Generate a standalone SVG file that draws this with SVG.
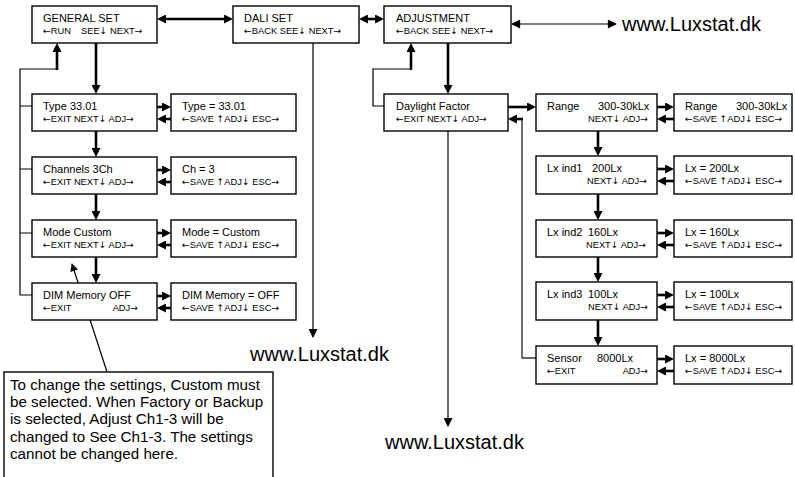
<svg xmlns="http://www.w3.org/2000/svg" width="795" height="477" viewBox="0 0 795 477">
  <defs>
    <style>
      .box { fill: #fff; stroke: #000; stroke-width: 1.4; }
      text { font-family: "Liberation Sans", Arial, sans-serif; fill: #000; }
      .t1 { font-size: 11px; }
      .t2 { font-size: 9.3px; }
      .ar { font-family: "DejaVu Sans", sans-serif; }
      .end { text-anchor: end; }
      .url { font-size: 20px; }
      .note { font-size: 15.2px; }
      .thick { stroke: #000; stroke-width: 2.6; fill: none; }
      .thin { stroke: #000; stroke-width: 1.2; fill: none; }
      .gray { stroke: #333; stroke-width: 1.4; fill: none; }
    </style>
    <!-- heavy arrowhead: tip sits 4px beyond the line end -->
    <marker id="ah" viewBox="0 0 10 10" refX="5.5" refY="5" markerWidth="9" markerHeight="9" markerUnits="userSpaceOnUse" orient="auto-start-reverse">
      <path d="M0,0 L10,5 L0,10 z" fill="#000"/>
    </marker>
    <!-- light arrowhead: tip sits 1px beyond the line end -->
    <marker id="al" viewBox="0 0 10 10" refX="9" refY="5" markerWidth="10" markerHeight="9" markerUnits="userSpaceOnUse" orient="auto-start-reverse">
      <path d="M0,0 L10,5 L0,10 z" fill="#000"/>
    </marker>
    <marker id="an" viewBox="0 0 10 10" refX="9" refY="5" markerWidth="11" markerHeight="8" markerUnits="userSpaceOnUse" orient="auto-start-reverse">
      <path d="M0,0 L10,5 L0,10 z" fill="#000"/>
    </marker>
  </defs>

  <!-- connectors -->
  <g id="connectors">
    <!-- top row -->
    <line class="thick" x1="161" y1="19" x2="229" y2="19" marker-start="url(#ah)" marker-end="url(#ah)"/>
    <line class="thick" x1="363" y1="19" x2="380" y2="19" marker-start="url(#ah)" marker-end="url(#ah)"/>
    <line class="thin" x1="512" y1="24" x2="616" y2="24" marker-start="url(#al)" marker-end="url(#al)"/>

    <!-- general set column -->
    <line class="thick" x1="96" y1="43" x2="96" y2="90" marker-end="url(#ah)"/>
    <line class="thick" x1="96" y1="131" x2="96" y2="153" marker-end="url(#ah)"/>
    <line class="thick" x1="96" y1="194" x2="96" y2="216" marker-end="url(#ah)"/>
    <line class="thick" x1="96" y1="257" x2="96" y2="279" marker-end="url(#ah)"/>
    <path class="thin" d="M32,295 H20 V69 H57"/>
    <path class="thin" d="M20,106 H32 M20,169 H32 M20,233 H32"/>
    <line class="thick" x1="57" y1="70" x2="57" y2="47" marker-end="url(#ah)"/>

    <!-- general set: edit pairs -->
    <line class="thick" x1="157" y1="107" x2="167" y2="107" marker-end="url(#ah)"/>
    <line class="thick" x1="171" y1="119" x2="161" y2="119" marker-end="url(#ah)"/>
    <line class="thick" x1="157" y1="170" x2="167" y2="170" marker-end="url(#ah)"/>
    <line class="thick" x1="171" y1="182" x2="161" y2="182" marker-end="url(#ah)"/>
    <line class="thick" x1="157" y1="233" x2="167" y2="233" marker-end="url(#ah)"/>
    <line class="thick" x1="171" y1="245" x2="161" y2="245" marker-end="url(#ah)"/>
    <line class="thick" x1="157" y1="296" x2="167" y2="296" marker-end="url(#ah)"/>
    <line class="thick" x1="171" y1="308" x2="161" y2="308" marker-end="url(#ah)"/>

    <!-- dali set exit -->
    <line class="thin" x1="313" y1="43" x2="313" y2="337" marker-end="url(#al)"/>

    <!-- adjustment column -->
    <line class="thick" x1="448" y1="43" x2="448" y2="90" marker-end="url(#ah)"/>
    <path class="thin" d="M384,106 H373 V69 H411"/>
    <line class="thick" x1="411" y1="70" x2="411" y2="47" marker-end="url(#ah)"/>
    <line class="thin" x1="448" y1="131" x2="448" y2="426" marker-end="url(#al)"/>
    <line class="thick" x1="508" y1="107" x2="532" y2="107" marker-end="url(#ah)"/>
    <path class="gray" d="M536,358 H522 V119"/>
    <line class="thick" x1="523" y1="119" x2="512" y2="119" marker-end="url(#ah)"/>

    <!-- daylight factor column -->
    <line class="thick" x1="598" y1="131" x2="598" y2="152" marker-end="url(#ah)"/>
    <line class="thick" x1="598" y1="194" x2="598" y2="216" marker-end="url(#ah)"/>
    <line class="thick" x1="598" y1="257" x2="598" y2="278" marker-end="url(#ah)"/>
    <line class="thick" x1="598" y1="320" x2="598" y2="342" marker-end="url(#ah)"/>

    <!-- daylight factor: edit pairs -->
    <line class="thick" x1="657" y1="107" x2="670" y2="107" marker-end="url(#ah)"/>
    <line class="thick" x1="674" y1="119" x2="661" y2="119" marker-end="url(#ah)"/>
    <line class="thick" x1="657" y1="169" x2="670" y2="169" marker-end="url(#ah)"/>
    <line class="thick" x1="674" y1="181" x2="661" y2="181" marker-end="url(#ah)"/>
    <line class="thick" x1="657" y1="233" x2="670" y2="233" marker-end="url(#ah)"/>
    <line class="thick" x1="674" y1="245" x2="661" y2="245" marker-end="url(#ah)"/>
    <line class="thick" x1="657" y1="295" x2="670" y2="295" marker-end="url(#ah)"/>
    <line class="thick" x1="674" y1="307" x2="661" y2="307" marker-end="url(#ah)"/>
    <line class="thick" x1="657" y1="359" x2="670" y2="359" marker-end="url(#ah)"/>
    <line class="thick" x1="674" y1="371" x2="661" y2="371" marker-end="url(#ah)"/>

    <!-- note leader -->
    <line class="thin" x1="107" y1="372" x2="72" y2="264" marker-end="url(#an)"/>
  </g>

  <!-- top row -->
  <g id="general-set">
    <rect class="box" x="32" y="6" width="125" height="37"/>
    <text class="t1" x="43" y="22">GENERAL SET</text>
    <text class="t2" y="34"><tspan x="43" class="ar">←</tspan>RUN<tspan x="81">SEE</tspan><tspan class="ar">↓</tspan> NEXT<tspan class="ar">→</tspan></text>
  </g>
  <g id="dali-set">
    <rect class="box" x="233" y="6" width="126" height="37"/>
    <text class="t1" x="244" y="22">DALI SET</text>
    <text class="t2" x="244" y="34"><tspan class="ar">←</tspan>BACK SEE<tspan class="ar">↓</tspan> NEXT<tspan class="ar">→</tspan></text>
  </g>
  <g id="adjustment">
    <rect class="box" x="384" y="6" width="127" height="37"/>
    <text class="t1" x="396" y="22">ADJUSTMENT</text>
    <text class="t2" x="396" y="34"><tspan class="ar">←</tspan>BACK SEE<tspan class="ar">↓</tspan> NEXT<tspan class="ar">→</tspan></text>
  </g>
  <text class="url" x="622" y="31">www.Luxstat.dk</text>
  <text class="url" x="250" y="361">www.Luxstat.dk</text>
  <text class="url" x="385" y="449">www.Luxstat.dk</text>

  <!-- general set items -->
  <g id="type">
    <rect class="box" x="32" y="94" width="125" height="37"/>
    <text class="t1" x="43" y="110">Type 33.01</text>
    <text class="t2" x="43" y="122"><tspan class="ar">←</tspan>EXIT NEXT<tspan class="ar">↓</tspan> ADJ<tspan class="ar">→</tspan></text>
  </g>
  <g id="type-edit">
    <rect class="box" x="171" y="94" width="125" height="37"/>
    <text class="t1" x="182" y="110">Type = 33.01</text>
    <text class="t2" x="182" y="122"><tspan class="ar">←</tspan>SAVE <tspan class="ar">↑</tspan>ADJ<tspan class="ar">↓</tspan> ESC<tspan class="ar">→</tspan></text>
  </g>
  <g id="channels">
    <rect class="box" x="32" y="157" width="125" height="37"/>
    <text class="t1" x="43" y="173">Channels 3Ch</text>
    <text class="t2" x="43" y="185"><tspan class="ar">←</tspan>EXIT NEXT<tspan class="ar">↓</tspan> ADJ<tspan class="ar">→</tspan></text>
  </g>
  <g id="channels-edit">
    <rect class="box" x="171" y="157" width="125" height="37"/>
    <text class="t1" x="182" y="173">Ch = 3</text>
    <text class="t2" x="182" y="185"><tspan class="ar">←</tspan>SAVE <tspan class="ar">↑</tspan>ADJ<tspan class="ar">↓</tspan> ESC<tspan class="ar">→</tspan></text>
  </g>
  <g id="mode">
    <rect class="box" x="32" y="220" width="125" height="37"/>
    <text class="t1" x="43" y="236">Mode Custom</text>
    <text class="t2" x="43" y="248"><tspan class="ar">←</tspan>EXIT NEXT<tspan class="ar">↓</tspan> ADJ<tspan class="ar">→</tspan></text>
  </g>
  <g id="mode-edit">
    <rect class="box" x="171" y="220" width="125" height="37"/>
    <text class="t1" x="182" y="236">Mode = Custom</text>
    <text class="t2" x="182" y="248"><tspan class="ar">←</tspan>SAVE <tspan class="ar">↑</tspan>ADJ<tspan class="ar">↓</tspan> ESC<tspan class="ar">→</tspan></text>
  </g>
  <g id="dim-memory">
    <rect class="box" x="32" y="283" width="125" height="37"/>
    <text class="t1" x="43" y="299">DIM Memory OFF</text>
    <text class="t2" x="43" y="311"><tspan class="ar">←</tspan>EXIT</text>
    <text class="t2 end" x="138" y="311">ADJ<tspan class="ar">→</tspan></text>
  </g>
  <g id="dim-memory-edit">
    <rect class="box" x="171" y="283" width="125" height="37"/>
    <text class="t1" x="182" y="299">DIM Memory = OFF</text>
    <text class="t2" x="182" y="311"><tspan class="ar">←</tspan>SAVE <tspan class="ar">↑</tspan>ADJ<tspan class="ar">↓</tspan> ESC<tspan class="ar">→</tspan></text>
  </g>

  <!-- adjustment items -->
  <g id="daylight-factor">
    <rect class="box" x="384" y="94" width="124" height="37"/>
    <text class="t1" x="396" y="110">Daylight Factor</text>
    <text class="t2" x="396" y="122"><tspan class="ar">←</tspan>EXIT NEXT<tspan class="ar">↓</tspan> ADJ<tspan class="ar">→</tspan></text>
  </g>
  <g id="range">
    <rect class="box" x="536" y="94" width="121" height="37"/>
    <text class="t1" y="110"><tspan x="547">Range</tspan><tspan x="598">300-30kLx</tspan></text>
    <text class="t2 end" x="648" y="122">NEXT<tspan class="ar">↓</tspan> ADJ<tspan class="ar">→</tspan></text>
  </g>
  <g id="range-edit">
    <rect class="box" x="674" y="94" width="118" height="37"/>
    <text class="t1" y="110"><tspan x="685">Range</tspan><tspan x="736">300-30kLx</tspan></text>
    <text class="t2" x="685" y="122"><tspan class="ar">←</tspan>SAVE <tspan class="ar">↑</tspan>ADJ<tspan class="ar">↓</tspan> ESC<tspan class="ar">→</tspan></text>
  </g>
  <g id="lx-ind1">
    <rect class="box" x="536" y="156" width="121" height="38"/>
    <text class="t1" y="172"><tspan x="547">Lx ind1</tspan><tspan x="592">200Lx</tspan></text>
    <text class="t2 end" x="647" y="184">NEXT<tspan class="ar">↓</tspan> ADJ<tspan class="ar">→</tspan></text>
  </g>
  <g id="lx-ind1-edit">
    <rect class="box" x="674" y="156" width="118" height="38"/>
    <text class="t1" x="685" y="172">Lx = 200Lx</text>
    <text class="t2" x="685" y="184"><tspan class="ar">←</tspan>SAVE <tspan class="ar">↑</tspan>ADJ<tspan class="ar">↓</tspan> ESC<tspan class="ar">→</tspan></text>
  </g>
  <g id="lx-ind2">
    <rect class="box" x="536" y="220" width="121" height="37"/>
    <text class="t1" y="236"><tspan x="547">Lx ind2</tspan><tspan x="588">160Lx</tspan></text>
    <text class="t2 end" x="646" y="248">NEXT<tspan class="ar">↓</tspan> ADJ<tspan class="ar">→</tspan></text>
  </g>
  <g id="lx-ind2-edit">
    <rect class="box" x="674" y="220" width="118" height="37"/>
    <text class="t1" x="685" y="236">Lx = 160Lx</text>
    <text class="t2" x="685" y="248"><tspan class="ar">←</tspan>SAVE <tspan class="ar">↑</tspan>ADJ<tspan class="ar">↓</tspan> ESC<tspan class="ar">→</tspan></text>
  </g>
  <g id="lx-ind3">
    <rect class="box" x="536" y="282" width="121" height="38"/>
    <text class="t1" y="298"><tspan x="547">Lx ind3</tspan><tspan x="588">100Lx</tspan></text>
    <text class="t2 end" x="648" y="310">NEXT<tspan class="ar">↓</tspan> ADJ<tspan class="ar">→</tspan></text>
  </g>
  <g id="lx-ind3-edit">
    <rect class="box" x="674" y="282" width="118" height="38"/>
    <text class="t1" x="685" y="298">Lx = 100Lx</text>
    <text class="t2" x="685" y="310"><tspan class="ar">←</tspan>SAVE <tspan class="ar">↑</tspan>ADJ<tspan class="ar">↓</tspan> ESC<tspan class="ar">→</tspan></text>
  </g>
  <g id="sensor">
    <rect class="box" x="536" y="346" width="121" height="38"/>
    <text class="t1" y="362"><tspan x="547">Sensor</tspan><tspan x="597">8000Lx</tspan></text>
    <text class="t2" x="547" y="374"><tspan class="ar">←</tspan>EXIT</text>
    <text class="t2 end" x="648" y="374">ADJ<tspan class="ar">→</tspan></text>
  </g>
  <g id="sensor-edit">
    <rect class="box" x="674" y="346" width="118" height="38"/>
    <text class="t1" x="685" y="362">Lx = 8000Lx</text>
    <text class="t2" x="685" y="374"><tspan class="ar">←</tspan>SAVE <tspan class="ar">↑</tspan>ADJ<tspan class="ar">↓</tspan> ESC<tspan class="ar">→</tspan></text>
  </g>

  <!-- note -->
  <g id="note">
    <rect class="box" x="4" y="372" width="269" height="110"/>
    <text class="note">
      <tspan x="10" y="390">To change the settings, Custom must</tspan>
      <tspan x="10" y="407">be selected. When Factory or Backup</tspan>
      <tspan x="10" y="424">is selected, Adjust Ch1-3 will be</tspan>
      <tspan x="10" y="442">changed to See Ch1-3. The settings</tspan>
      <tspan x="10" y="459">cannot be changed here.</tspan>
    </text>
  </g>
</svg>
